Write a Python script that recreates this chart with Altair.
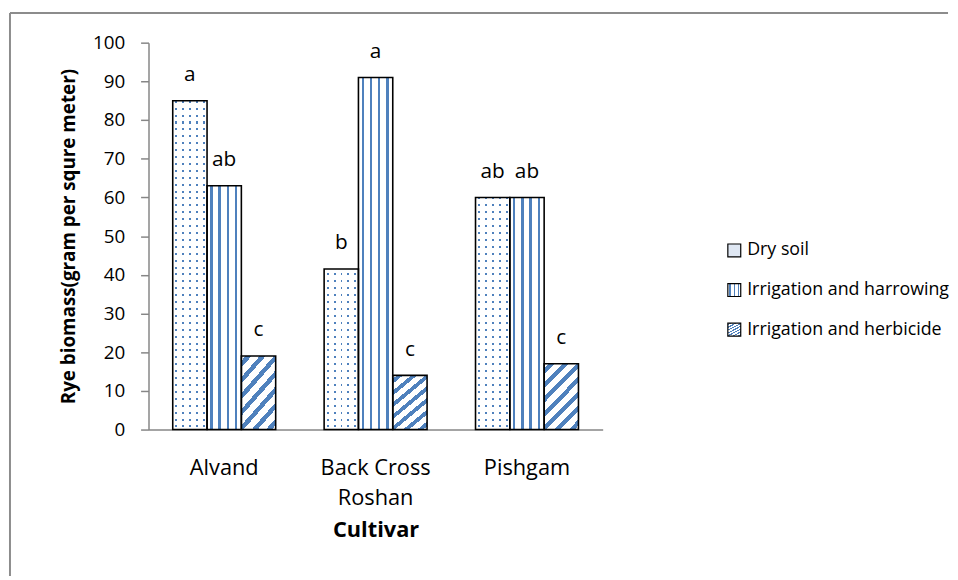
import altair as alt
import pandas as pd

cultivars = ["Alvand", "Back Cross Roshan", "Pishgam"]
treatments = ["Dry soil", "Irrigation and harrowing", "Irrigation and herbicide"]
dry_soil = [85, 41.5, 60]
irr_harrowing = [63, 91, 60]
irr_herbicide = [19, 14, 17]
letters_dry = ["a", "b", "ab"]
letters_harrowing = ["ab", "a", "ab"]
letters_herbicide = ["c", "c", "c"]

rows = []
for vals, labs, t in [(dry_soil, letters_dry, treatments[0]),
                      (irr_harrowing, letters_harrowing, treatments[1]),
                      (irr_herbicide, letters_herbicide, treatments[2])]:
    for c, v, l in zip(cultivars, vals, labs):
        rows.append({"cultivar": c, "treatment": t, "value": v, "letter": l})
df = pd.DataFrame(rows)
leg_df = pd.DataFrame({"treatment": treatments})

BLUE = "#4f81bd"
CLEAR = "rgba(255,255,255,0)"
FONT = "Open Sans"
W, H = 459, 391
LW = 341


def stops_from(bands, color, base="white"):
    s = [{"offset": 0, "color": base}]
    for a, b in bands:
        s += [{"offset": a, "color": base}, {"offset": a, "color": color},
              {"offset": b, "color": color}, {"offset": b, "color": base}]
    s.append({"offset": 1, "color": base})
    return [alt.GradientStop(offset=min(max(d["offset"], 0), 1), color=d["color"]) for d in s]


def grad(bands, color, x2, y2, base="white"):
    return alt.LinearGradient(gradient="linear", stops=stops_from(bands, color, base),
                              x1=0, y1=0, x2=x2, y2=y2)


# vertical stripes (harrowing)
vert = grad([(0.09, 0.16), (0.33, 0.40), (0.57, 0.64), (0.81, 0.88)], BLUE, 1, 0)
# diagonal stripes (herbicide)
per = 1 / 7.0
diag = grad([(i * per + 0.3 * per, i * per + 0.72 * per) for i in range(7)], BLUE, 0.634, 1.194)
# dotted (dry soil): thin vertical lines, masked by horizontal white rows
ncol = 5
dot_cols = grad([((i + 0.4) / ncol, (i + 0.4) / ncol + 0.055) for i in range(ncol)], BLUE, 1, 0)
nrow = 56
dot_mask = grad([((j + 0.4) / nrow, (j + 0.4) / nrow + 0.3 / nrow) for j in range(nrow)],
                CLEAR, 0, 1, base="white")
# legend square versions
leg_vert = grad([(0.12, 0.24), (0.44, 0.56), (0.76, 0.88)], BLUE, 1, 0)
leg_dots = "#dfe7f3"

xscale = alt.Scale(domain=cultivars, paddingInner=0.32, paddingOuter=0.16)
xoff = alt.Scale(domain=treatments, paddingInner=0, paddingOuter=0)
yscale = alt.Scale(domain=[0, 100])

xenc = alt.X("cultivar:N", scale=xscale, sort=cultivars,
             axis=alt.Axis(title="Cultivar", labelAngle=0, ticks=False,
                           labelPadding=28, titlePadding=11, labelFontSize=22, titleFontSize=22,
                           labelLineHeight=31,
                           labelExpr="datum.label == 'Back Cross Roshan' ? ['Back Cross', 'Roshan'] : datum.label"))
yaxis = alt.Axis(title="Rye biomass(gram per squre meter)", values=list(range(0, 101, 10)),
                 tickSize=8, labelPadding=16, titlePadding=14, grid=False, labelOverlap=False,
                 labelFontSize=19, titleFontSize=19)
yenc = alt.Y("value:Q", scale=yscale, axis=yaxis)
xo = alt.XOffset("treatment:N", scale=xoff)

base = alt.Chart(df)
dry_f = alt.datum.treatment == treatments[0]
layers = [
    base.transform_filter(dry_f).mark_bar(fill=dot_cols, strokeWidth=0).encode(x=xenc, xOffset=xo, y=yenc),
    base.transform_filter(dry_f).mark_bar(fill=dot_mask, strokeWidth=0).encode(
        x=xenc, xOffset=xo, y=alt.Y(datum=100, scale=yscale, axis=yaxis), y2=alt.Y2(datum=0)),
    base.transform_filter(alt.datum.treatment == treatments[1]).mark_bar(fill=vert, strokeWidth=0)
        .encode(x=xenc, xOffset=xo, y=yenc),
    base.transform_filter(alt.datum.treatment == treatments[2]).mark_bar(fill=diag, strokeWidth=0)
        .encode(x=xenc, xOffset=xo, y=yenc),
    base.mark_bar(fillOpacity=0, stroke="black", strokeWidth=1.6).encode(x=xenc, xOffset=xo, y=yenc),
    base.mark_text(baseline="bottom", dy=-16, fontSize=21, font=FONT, color="black").encode(
        x=xenc, xOffset=xo, y=yenc, text="letter:N"),
]

frame_top = alt.Chart(leg_df.head(1)).mark_rule(color="#8c8c8c", strokeWidth=2).encode(
    x=alt.value(-140), x2=alt.value(W + LW + 8), y=alt.value(-30))
frame_left = alt.Chart(leg_df.head(1)).mark_rule(color="#8c8c8c", strokeWidth=2).encode(
    x=alt.value(-140), y=alt.value(-30), y2=alt.value(H + 148))

main = alt.layer(*layers, frame_top, frame_left).properties(width=W, height=H)

lyscale = alt.Scale(domain=treatments, range=[210, 290], padding=0)
leg_fills = {treatments[0]: leg_dots, treatments[1]: leg_vert, treatments[2]: diag}
leg_layers = []
for t in treatments:
    leg_layers.append(
        alt.Chart(leg_df).transform_filter(alt.datum.treatment == t)
        .mark_square(size=170, fill=leg_fills[t], stroke="black", strokeWidth=1.2, opacity=1, filled=True)
        .encode(x=alt.value(133), y=alt.Y("treatment:N", scale=lyscale, axis=None))
    )
leg_text = alt.Chart(leg_df).mark_text(align="left", baseline="middle", fontSize=18, font=FONT, color="black").encode(
    x=alt.value(146), y=alt.Y("treatment:N", scale=lyscale, axis=None), text="treatment:N")
legend = alt.layer(*leg_layers, leg_text).properties(width=LW, height=H)

chart = (
    alt.hconcat(main, legend, spacing=0, bounds="flush")
    .properties(padding={"left": 1, "top": 1, "right": 0, "bottom": 0})
    .configure(padding={"left": 1, "top": 1, "right": 0, "bottom": 0})
    .configure_view(stroke=None)
    .configure_axis(domainColor="#868686", tickColor="#868686", domainWidth=1.5, tickWidth=1.5,
                    labelFont=FONT, labelColor="black",
                    titleFont=FONT, titleFontWeight="bold", titleColor="black")
)

chart.save("out.html", embed_options={"renderer": "svg", "actions": False})
